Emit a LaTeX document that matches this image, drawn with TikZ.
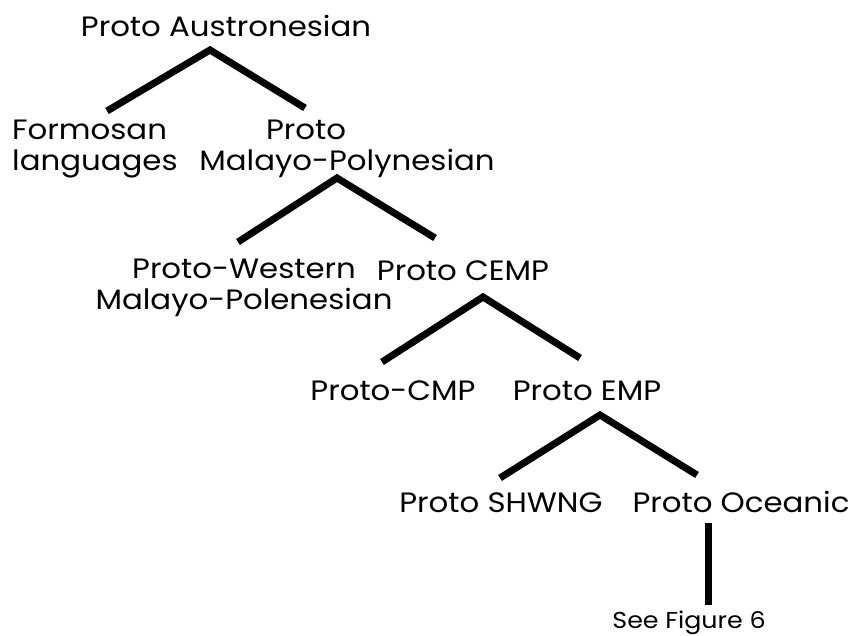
\documentclass[tikz,border=0pt]{standalone}
\usepackage{fontspec}
\setmainfont{Poppins}[FakeStretch=1.1]
\newcommand\treefont{\fontsize{28}{31}\selectfont}
\newcommand\notefont{\fontsize{23}{25}\selectfont}
\tikzset{
  lang/.style={inner sep=0pt, anchor=base, font=\treefont},
  branch/.style={line width=7pt},
}
\begin{document}
\begin{tikzpicture}[x=1pt,y=-1pt]

    \useasboundingbox (0,0) rectangle (859,636);

    %% Austronesian family tree

    % Languages
    \node[lang] (pan) at (226,37) {Proto Austronesian};
    \node[lang, anchor=base west, align=left] (formosan) at (12,171) {Formosan\\languages};
    \node[lang, align=center] (pmp) at (347,171) {Proto\hspace*{82pt}\\Malayo-Polynesian};
    \node[lang, align=center] (pwmp) at (244,309) {Proto-Western\\Malayo-Polenesian};
    \node[lang] (pcemp) at (463,280) {Proto CEMP};
    \node[lang] (pcmp) at (393,400) {Proto-CMP};
    \node[lang] (pemp) at (587,400) {Proto EMP};
    \node[lang] (pshwng) at (501,512) {Proto SHWNG};
    \node[lang] (poc) at (741,512) {Proto Oceanic};
    \node[lang, font=\notefont] (seefig) at (689,628) {See Figure 6};

    % Branch points
    \coordinate (pan-foot) at (210,50);
    \coordinate (formosan-top) at (107,111);
    \coordinate (pmp-top) at (305,108);
    \coordinate (pmp-foot) at (337,178);
    \coordinate (pwmp-top) at (238,242);
    \coordinate (pcemp-top) at (435,238);
    \coordinate (pcemp-foot) at (483,297);
    \coordinate (pcmp-top) at (382,362);
    \coordinate (pemp-top) at (580,358);
    \coordinate (pemp-foot) at (600,415);
    \coordinate (pshwng-top) at (500,478);
    \coordinate (poc-top) at (697,475);
    \coordinate (poc-foot) at (708,523);
    \coordinate (seefig-top) at (708,605);

    % Branches
    \draw[branch] (formosan-top) -- (pan-foot) -- (pmp-top);
    \draw[branch] (pwmp-top) -- (pmp-foot) -- (pcemp-top);
    \draw[branch] (pcmp-top) -- (pcemp-foot) -- (pemp-top);
    \draw[branch] (pshwng-top) -- (pemp-foot) -- (poc-top);
    \draw[branch] (poc-foot) -- (seefig-top);

\end{tikzpicture}
\end{document}
